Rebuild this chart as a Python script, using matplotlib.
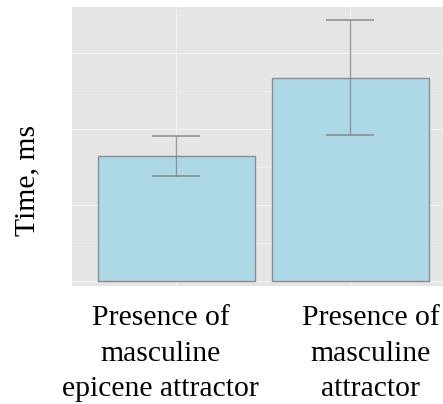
import numpy as np
import matplotlib.pyplot as plt
import matplotlib.transforms as mtransforms

# data (ms)
conditions = ["Presence of\nmasculine\nepicene attractor", "Presence of\nmasculine\nattractor"]
mean_time = [330, 535]
err_low = [276, 384]
err_high = [382, 687]

plt.rcParams["font.family"] = ["Liberation Serif", "DejaVu Serif"]

fig = plt.figure(figsize=(4.43, 4.04), dpi=100)
ax = fig.add_axes([72 / 443, (404 - 286) / 404, (443 - 72) / 443, (286 - 7) / 404])
ax.set_facecolor("#e5e5e5")

x = np.arange(1, len(conditions) + 1)
ax.bar(x, mean_time, width=0.9, color="#add8e6", edgecolor="#8c8c8c", linewidth=1, zorder=2)

lower = np.array(mean_time) - np.array(err_low)
upper = np.array(err_high) - np.array(mean_time)
ax.errorbar(x, mean_time, yerr=[lower, upper], fmt="none", ecolor="#7a7a7a",
            alpha=0.7, elinewidth=1, capsize=17, capthick=1.3, zorder=3)

ax.set_xlim(0.4, 2.532)
ax.set_ylim(-13, 721)
ax.set_yticks([0, 200, 400, 600])
ax.set_yticks([100, 300, 500, 700], minor=True)
ax.set_xticks(x)
ax.set_xticklabels(conditions, fontsize=21.3, linespacing=1.47)
ax.set_yticklabels([])

ax.grid(which="major", color="#f2f2f2", linewidth=0.9, zorder=0)
ax.grid(which="minor", axis="y", color="#ececec", linewidth=0.6, zorder=0)
ax.set_axisbelow(True)
ax.tick_params(which="both", length=0, pad=14)
for s in ax.spines.values():
    s.set_visible(False)

# nudge the labels a bit apart, as in the original
for lab, dx in zip(ax.get_xticklabels(), [-16, 20]):
    lab.set_transform(lab.get_transform() + mtransforms.ScaledTranslation(dx / 100, 0, fig.dpi_scale_trans))

ax.set_ylabel("Time, ms", fontsize=21.3)
ax.yaxis.set_label_coords(-0.086, 0.38)

fig.savefig("out.png", dpi=100)
